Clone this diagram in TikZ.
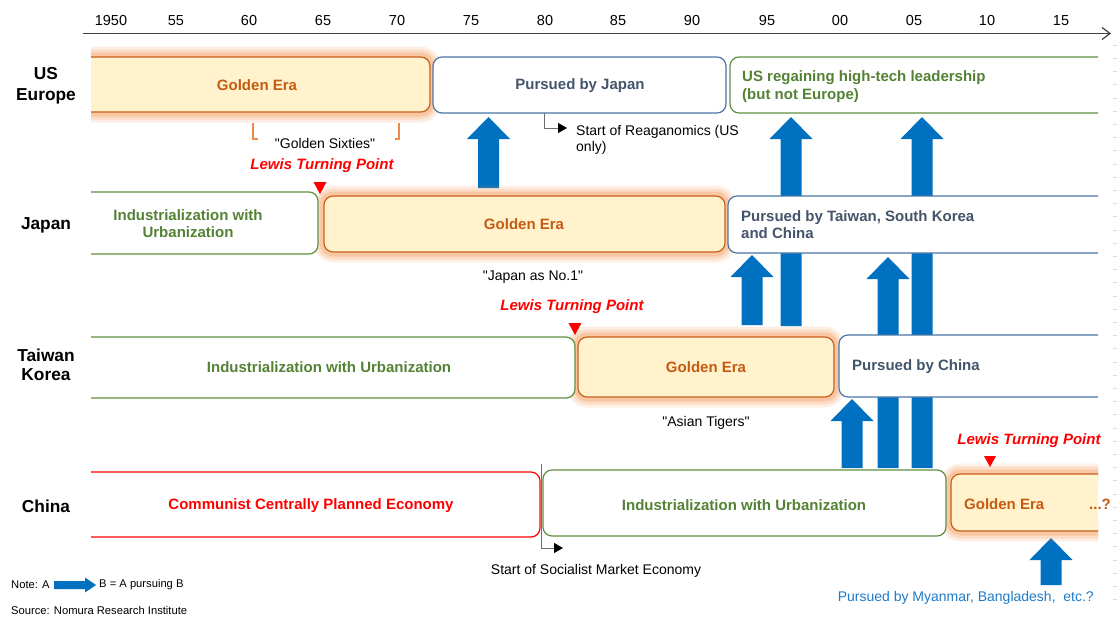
\documentclass[tikz,border=0pt]{standalone}
\usepackage{fontspec}
\setmainfont{Liberation Sans}[Ligatures=TeXOff]
\usetikzlibrary{arrows.meta,calc}
\definecolor{gfill}{HTML}{FFF2CC}
\definecolor{gdraw}{HTML}{C8601A}
\definecolor{gtext}{HTML}{C55A11}
\definecolor{glowc}{HTML}{F4934A}
\definecolor{grn}{HTML}{548235}
\definecolor{grnd}{HTML}{5E9040}
\definecolor{bgt}{HTML}{44546A}
\definecolor{bbd}{HTML}{4A76A8}
\definecolor{abl}{HTML}{0070C0}
\definecolor{myt}{HTML}{1F7BC8}
\definecolor{axc}{HTML}{404040}
\definecolor{connc}{HTML}{6F6F6F}
\definecolor{brk}{HTML}{ED8A45}
\newcommand\mybox[6]{\node[#2, minimum width={#5-(#3)}, minimum height={#6-(#4)}] (#1) at (#3,#4) {};}
\begin{document}
\begin{tikzpicture}[x=1pt,y=-1pt,
  box/.style={rectangle, rounded corners=9pt, line width=1.2pt, inner sep=0pt, outer sep=0pt, anchor=north west, fill=white},
  golden/.style={box, draw=gdraw, fill=gfill,
     preaction={draw=glowc, line width=21pt, draw opacity=0.14, line join=round},
     preaction={draw=glowc, line width=15pt, draw opacity=0.2, line join=round},
     preaction={draw=glowc, line width=9pt, draw opacity=0.28, line join=round}},
  greenbox/.style={box, draw=grnd},
  bluebox/.style={box, draw=bbd},
  redbox/.style={box, draw=red},
  yr/.style={inner sep=0pt, font=\fontsize{14.5}{17}\selectfont},
  rowlbl/.style={inner sep=0pt, align=center, font=\bfseries\fontsize{17.3}{21.5}\selectfont},
  lbl/.style={inner sep=0pt, font=\bfseries\fontsize{15}{17}\selectfont},
  ann/.style={inner sep=0pt, font=\fontsize{14}{16}\selectfont},
  lewis/.style={inner sep=0pt, text=red, font=\bfseries\itshape\fontsize{15}{17}\selectfont},
  notetxt/.style={inner sep=0pt, font=\fontsize{11.2}{13}\selectfont},
  bigup/.style={to path={let \p1=(\tikztostart), \p2=(\tikztotarget) in
     (\x1-10.5pt,\y1) -- (\x1+10.5pt,\y1) -- (\x1+10.5pt,\y2-22pt) -- (\x1+21.5pt,\y2-22pt)
     -- (\x2,\y2) -- (\x1-21.5pt,\y2-22pt) -- (\x1-10.5pt,\y2-22pt) -- cycle}},
  noteright/.style={to path={let \p1=(\tikztostart), \p2=(\tikztotarget) in
     (\x1,\y1+4pt) -- (\x2-11pt,\y1+4pt) -- (\x2-11pt,\y1+7.5pt) -- (\x2,\y2)
     -- (\x2-11pt,\y1-7.5pt) -- (\x2-11pt,\y1-4pt) -- (\x1,\y1-4pt) -- cycle}},
  conn/.style={draw=connc, line width=0.9pt, -{Triangle[length=9pt,width=10pt,color=black]}}
]
\useasboundingbox (0,0) rectangle (1117,619);
\fill[white] (0,0) rectangle (1117,619);

% axis
\coordinate (axS) at (83,33.5);
\coordinate (axE) at (1111,33.5);
\draw[axc, line width=1.2pt, -{Straight Barb[length=8pt,width=12pt]}] (axS) -- (axE);
\foreach \t/\xx [count=\i] in {1950/111,55/176,60/249,65/323,70/397,75/471,80/545,85/618,90/692,95/767,00/840,05/914,10/987,15/1061}
  \node[yr] (yr\i) at (\xx,21) {\t};

% right edge faint ticks
\foreach \yy in {45,58.2,...,610}
  \draw[gray!30, line width=0.6pt] (1113,\yy) -- (1117,\yy);

% row labels
\node[rowlbl] (rUS) at (46,86) {US\\Europe};
\node[rowlbl] (rJP) at (46,225) {Japan};
\node[rowlbl, font=\bfseries\fontsize{17.3}{19.5}\selectfont] (rTW) at (46,365) {Taiwan\\Korea};
\node[rowlbl] (rCN) at (46,506) {China};

% block arrows (pursuit)
\coordinate (a1s) at (488.5,188); \coordinate (a1e) at (488.5,117);
\coordinate (a2s) at (791,326);   \coordinate (a2e) at (791,117);
\coordinate (a3s) at (922,468);   \coordinate (a3e) at (922,117);
\coordinate (a4s) at (752,325);   \coordinate (a4e) at (752,255);
\coordinate (a5s) at (888,468);   \coordinate (a5e) at (888,257);
\coordinate (a6s) at (852,468);   \coordinate (a6e) at (852,399);
\coordinate (a7s) at (1051,585);  \coordinate (a7e) at (1051,538);
\foreach \k in {1,...,7}
  \fill[abl] (a\k s) to[bigup] (a\k e);

% boxes
\begin{scope}
\clip (91,0) rectangle (1098,619);
\mybox{usG}{golden}{60}{57}{430}{112}
\mybox{jpG}{golden}{324}{196}{725}{252}
\mybox{twG}{golden}{578}{337}{834}{397}
\mybox{cnG}{golden}{951}{474}{1130}{531}
\mybox{usJ}{bluebox}{433}{57}{726}{113}
\mybox{usR}{greenbox}{730}{57}{1130}{113}
\mybox{jpI}{greenbox}{60}{192}{318}{254}
\mybox{jpP}{bluebox}{728}{196}{1130}{253}
\mybox{twI}{greenbox}{60}{337}{575}{398}
\mybox{twP}{bluebox}{839}{335}{1130}{397}
\mybox{cnC}{redbox}{60}{472}{540}{537}
\mybox{cnI}{greenbox}{543}{470}{946}{536}
\end{scope}

% box texts
\node[lbl, text=gtext] (tusG) at (257,85) {Golden Era};
\node[lbl, text=bgt] (tusJ) at (580,86) {Pursued by Japan};
\node[lbl, text=grn, anchor=west, align=left, font=\bfseries\fontsize{15}{18.5}\selectfont] (tusR) at (742,86.5) {US regaining high-tech leadership\\(but not Europe)};
\node[lbl, text=grn, align=center] (tjpI) at (188,224) {Industrialization with\\Urbanization};
\node[lbl, text=gtext] (tjpG) at (524,224) {Golden Era};
\node[lbl, text=bgt, anchor=west, align=left] (tjpP) at (741,225) {Pursued by Taiwan, South Korea\\and China};
\node[lbl, text=grn] (ttwI) at (329,367) {Industrialization with Urbanization};
\node[lbl, text=gtext] (ttwG) at (706,367) {Golden Era};
\node[lbl, text=bgt, anchor=west] (ttwP) at (852,367) {Pursued by China};
\node[lbl, text=red] (tcnC) at (311,506) {Communist Centrally Planned Economy};
\node[lbl, text=grn] (tcnI) at (744,505) {Industrialization with Urbanization};
\node[lbl, text=gtext, anchor=west] (tcnG) at (964,504) {Golden Era};
\node[lbl, text=gtext] (tcnQ) at (1100,504) {...?};

% Golden sixties bracket
\draw[brk, line width=1.1pt] (257.5,139) -- (253,139) -- (253,123);
\draw[brk, line width=1.1pt] (394.5,139) -- (399,139) -- (399,123);
\node[ann] (gs) at (325,143.5) {"Golden Sixties"};
\node[ann] (jn1) at (533,277) {"Japan as No.1"};
\node[ann] (at) at (706,423) {"Asian Tigers"};

% Lewis turning points
\node[lewis] (lw1) at (322,166) {Lewis Turning Point};
\fill[red] (313.5,182) -- (326.5,182) -- (320,194) -- cycle;
\node[lewis] (lw2) at (572,307) {Lewis Turning Point};
\fill[red] (568.5,323) -- (581.5,323) -- (575,335) -- cycle;
\node[lewis] (lw3) at (1029,441) {Lewis Turning Point};
\fill[red] (984,456) -- (996,456) -- (990,467) -- cycle;

% Reaganomics
\coordinate (rg0) at (544,113);
\coordinate (rg1) at (567,128);
\draw[conn] (rg0) |- (rg1);
\node[ann, anchor=west, align=left, font=\fontsize{14}{16.5}\selectfont] (rgt) at (576,140) {Start of Reaganomics (US\\only)};

% Socialist market economy
\coordinate (sm0) at (541,464);
\coordinate (sm1) at (563,548);
\draw[conn] (sm0) |- (sm1);
\node[ann] (smt) at (596,571) {Start of Socialist Market Economy};

% Myanmar
\node[ann, text=myt, anchor=east] (mya) at (1094,598) {Pursued by Myanmar, Bangladesh,\ \ etc.?};

% Note and source
\node[notetxt, anchor=west] (nA) at (11,585) {Note: A};
\coordinate (nas) at (54,585);
\coordinate (nae) at (96,585);
\fill[abl] (nas) to[noteright] (nae);
\node[notetxt, anchor=west] (nB) at (99,585) {B = A pursuing B};
\node[notetxt, anchor=west] (src) at (11,610) {Source: Nomura Research Institute};
\end{tikzpicture}
\end{document}
